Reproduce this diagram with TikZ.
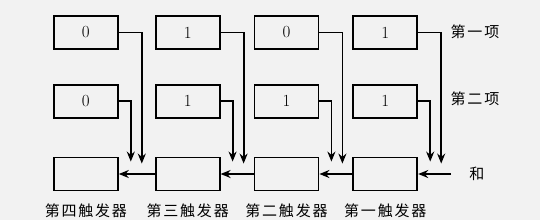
\documentclass[tikz,border=0pt]{standalone}
\usepackage{fontspec}
\newfontfamily\cjk[LetterSpace=12]{Noto Sans CJK SC}
\usetikzlibrary{arrows.meta,positioning}

\begin{document}
\begin{tikzpicture}[
                    x=1pt, y=-1pt,
                    bitbox/.style={draw, line width=1.8pt, minimum width=64pt, minimum height=33pt, inner sep=0pt, font=\fontsize{17}{17}\selectfont},
                    tag/.style={font=\cjk\fontsize{15}{15}\selectfont, inner sep=0pt},
                    arr/.style={line width=1.8pt, -{Stealth[length=10pt,width=8pt]}},
                    node distance=35pt
                ]
                    \fill[black!5] (0,0) rectangle (540,220);
                    \useasboundingbox (0,0) rectangle (540,220);
                    % first term
                    \node[bitbox, anchor=north west] (a1) at (53,15) {0};
                    \node[bitbox, right=36pt of a1] (a2) {1};
                    \node[bitbox, right=33pt of a2] (a3) {0};
                    \node[bitbox, right=33pt of a3] (a4) {1};
                    % second term
                    \node[bitbox, below=34pt of a1] (b1) {0};
                    \node[bitbox, below=34pt of a2] (b2) {1};
                    \node[bitbox, below=34pt of a3] (b3) {1};
                    \node[bitbox, below=34pt of a4] (b4) {1};
                    % sum
                    \node[bitbox, below=38pt of b1] (s1) {};
                    \node[bitbox, below=38pt of b2] (s2) {};
                    \node[bitbox, below=38pt of b3] (s3) {};
                    \node[bitbox, below=38pt of b4] (s4) {};

                    \node[tag] (t1) at (475,32) {第一项};
                    \node[tag] (t2) at (475,99) {第二项};
                    \coordinate[right=33pt of s4.east] (in);
                    \node[tag, right=18pt of in] (he) {和};

                    \node[tag, below=12pt of s1] (f4) {第四触发器};
                    \node[tag, below=12pt of s2] (f3) {第三触发器};
                    \node[tag, below=12pt of s3] (f2) {第二触发器};
                    \node[tag, below=12pt of s4] (f1) {第一触发器};

                    \foreach \i in {1,...,4} {
                        \draw[arr] (a\i.east) -| ([xshift=23pt,yshift=-7pt]s\i.north east);
                        \draw[arr] (b\i.east) -| ([xshift=12pt,yshift=-5pt]s\i.north east);
                    }
                    \draw[arr] (s2.west) -- (s1.east);
                    \draw[arr] (s3.west) -- (s2.east);
                    \draw[arr] (s4.west) -- (s3.east);
                    \draw[arr] (in) -- (s4.east);
                \end{tikzpicture}
\end{document}
